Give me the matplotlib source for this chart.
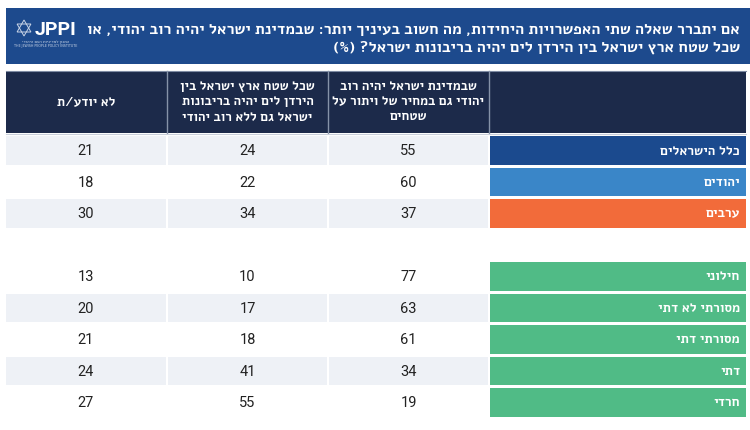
import matplotlib
matplotlib.use("Agg")
import matplotlib.pyplot as plt
from matplotlib.patches import Rectangle, Polygon

# ---------------- data ----------------
title_lines = [
    "אם יתברר שאלה שתי האפשרויות היחידות, מה חשוב בעיניך יותר: שבמדינת ישראל יהיה רוב יהודי, או",
    "שכל שטח ארץ ישראל בין הירדן לים יהיה בריבונות ישראל? (%)",
]
col_headers = [
    ["שבמדינת ישראל יהיה רוב", "יהודי גם במחיר של ויתור על", "שטחים"],
    ["שכל שטח ארץ ישראל בין", "הירדן לים יהיה בריבונות", "ישראל גם ללא רוב יהודי"],
    ["לא יודע/ת"],
]
group1_labels = ["כלל הישראלים", "יהודים", "ערבים"]
group1_territory = [55, 60, 37]
group1_sovereignty = [24, 22, 34]
group1_dontknow = [21, 18, 30]

group2_labels = ["חילוני", "מסורתי לא דתי", "מסורתי דתי", "דתי", "חרדי"]
group2_territory = [77, 63, 61, 34, 19]
group2_sovereignty = [10, 17, 18, 41, 55]
group2_dontknow = [13, 20, 21, 24, 27]

group1_colors = ["#1B4A8E", "#3A86C8", "#F26B3A"]
group2_color = "#50BB86"

# ---------------- helpers ----------------
HEB = ["Alef", "Open Sans", "Liberation Sans", "DejaVu Sans"]
NUM = ["Heebo", "Roboto", "DejaVu Sans"]


def vis(s):
    """logical Hebrew -> visual order for LTR renderer"""
    return s[::-1].translate(str.maketrans("()", ")("))


W, H = 750, 430
fig = plt.figure(figsize=(W / 100, H / 100), dpi=100)
ax = fig.add_axes([0, 0, 1, 1])
ax.set_xlim(0, W)
ax.set_ylim(H, 0)
ax.axis("off")

# ---------------- title banner ----------------
ax.add_patch(Rectangle((6, 8), W - 6, 56, color="#1D4A8D", lw=0))
ax.text(740, 30, vis(title_lines[0]), ha="right", va="center", color="white",
        fontsize=11.1, fontweight="bold", family=HEB)
ax.text(740, 47.5, vis(title_lines[1]), ha="right", va="center", color="white",
        fontsize=11.1, fontweight="bold", family=HEB)

# logo
cx, cy, r = 24, 28, 8
tri1 = [(cx, cy - r), (cx - r * 0.866, cy + r * 0.5), (cx + r * 0.866, cy + r * 0.5)]
tri2 = [(cx, cy + r), (cx - r * 0.866, cy - r * 0.5), (cx + r * 0.866, cy - r * 0.5)]
for t in (tri1, tri2):
    ax.add_patch(Polygon(t, closed=True, fill=False, ec="#C9D4E6", lw=0.7))
ax.text(35, 30, "JPPI", ha="left", va="center", color="white", fontsize=14,
        fontweight="bold", family=["Roboto", "DejaVu Sans"])
ax.text(46, 42, vis("המכון למדיניות העם היהודי"), ha="center", va="center",
        color="#C9D4E6", fontsize=3.2, family=HEB)
ax.text(46, 46.5, "THE JEWISH PEOPLE POLICY INSTITUTE", ha="center", va="center",
        color="#C9D4E6", fontsize=2.3, family=["DejaVu Sans"])

# ---------------- layout ----------------
col_edges = [(329, 488), (168, 327), (6, 166)]   # data columns
label_edge = (490, 746)
header_top, header_bot = 71, 133
row_top0, pitch, cell_h = 136, 31.5, 28.5

# header
ax.add_patch(Rectangle((6, header_top), 740, header_bot - header_top,
                       color="#1C2A4A", lw=0))
ax.plot([6, 746], [header_top, header_top], color="#7E8BA3", lw=0.8)
for xs in (167, 328, 489):
    ax.plot([xs, xs], [header_top, header_bot], color="#8592A8", lw=1.0)
ax.plot([6, 746], [header_bot + 1, header_bot + 1], color="#C8CEDA", lw=0.8)

for (x0, x1), lines in zip(col_edges, col_headers):
    xc = (x0 + x1) / 2
    n = len(lines)
    for i, ln in enumerate(lines):
        y = (header_top + header_bot) / 2 + (i - (n - 1) / 2) * 15.5
        ax.text(xc, y, vis(ln), ha="center", va="center", color="white",
                fontsize=9.2, fontweight="bold", family=HEB)

# rows
rows = []
for i, lab in enumerate(group1_labels):
    rows.append((i, lab, group1_colors[i],
                 [group1_territory[i], group1_sovereignty[i], group1_dontknow[i]],
                 i % 2 == 0))
for j, lab in enumerate(group2_labels):
    rows.append((4 + j, lab, group2_color,
                 [group2_territory[j], group2_sovereignty[j], group2_dontknow[j]],
                 j % 2 == 1))

for slot, lab, lc, vals, shaded in rows:
    top = row_top0 + slot * pitch
    ax.add_patch(Rectangle((label_edge[0], top), label_edge[1] - label_edge[0],
                           cell_h, color=lc, lw=0))
    ax.text(740, top + cell_h / 2 + 1, vis(lab), ha="right", va="center",
            color="white", fontsize=9.4, fontweight="bold", family=HEB)
    for (x0, x1), v in zip(col_edges, vals):
        if shaded:
            ax.add_patch(Rectangle((x0, top), x1 - x0, cell_h,
                                   color="#EEF1F6", lw=0))
        ax.text((x0 + x1) / 2, top + cell_h / 2 + 1, str(v), ha="center",
                va="center", color="#222222", fontsize=10.5, family=NUM)

fig.savefig("out.png", dpi=100, facecolor="white")
